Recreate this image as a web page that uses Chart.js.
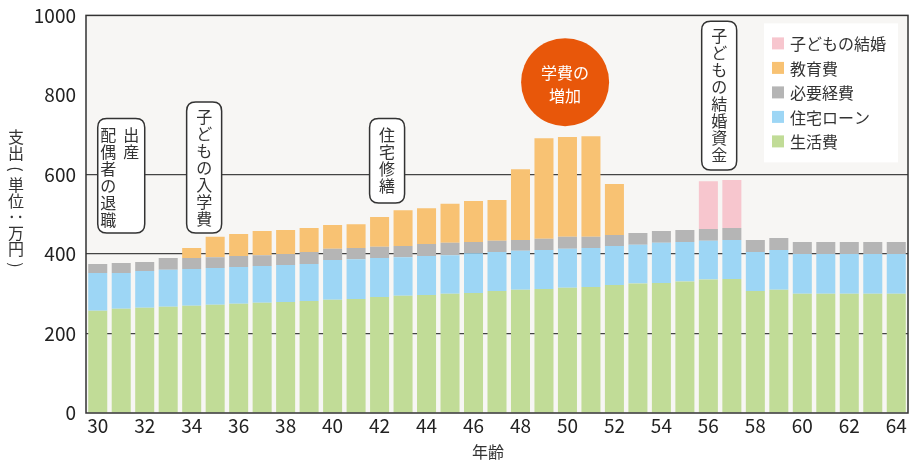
<!DOCTYPE html>
<html>
<head>
<meta charset="utf-8">
<script src="https://cdn.jsdelivr.net/npm/chart.js@4"></script>
<style>
  html, body { margin: 0; padding: 0; background: #fff; }
  #wrap { width: 909px; height: 463px; }
</style>
</head>
<body>
<div id="wrap"><canvas id="myChart" width="909" height="463"></canvas></div>
<script>
// ages 30..64
const ages = [];
for (let a = 30; a <= 64; a++) ages.push(String(a));

const living   = [257, 262, 265, 267, 270, 272, 275, 277, 279, 282, 285, 287, 292, 295, 297, 300, 302, 307, 310, 312, 315, 317, 322, 326, 327, 331, 336, 337, 307, 310, 300, 300, 300, 300, 300];
const loan     = [95, 90, 92, 93, 92, 93, 92, 93, 93, 93, 100, 100, 98, 97, 98, 97, 100, 98, 98, 98, 98, 98, 98, 97, 101, 99, 97, 98, 98, 100, 100, 100, 100, 100, 100];
const needed   = [23, 25, 23, 30, 28, 27, 28, 27, 28, 30, 28, 28, 28, 28, 30, 31, 28, 28, 27, 28, 30, 28, 28, 30, 30, 30, 30, 30, 30, 30, 30, 30, 30, 30, 30];
const education = [0, 0, 0, 0, 25, 51, 55, 61, 60, 60, 60, 60, 75, 90, 90, 98, 103, 103, 178, 253, 251, 253, 128, 0, 0, 0, 0, 0, 0, 0, 0, 0, 0, 0, 0];
const wedding  = [0, 0, 0, 0, 0, 0, 0, 0, 0, 0, 0, 0, 0, 0, 0, 0, 0, 0, 0, 0, 0, 0, 0, 0, 0, 0, 120, 121, 0, 0, 0, 0, 0, 0, 0];

const seriesNames = ['生活費', '住宅ローン', '必要経費', '教育費', '子どもの結婚'];
const seriesColors = ['#c1dc97', '#9dd6f5', '#b5b5b5', '#f8c273', '#f7c6ce'];
const yTicks = [0, 200, 400, 600, 800, 1000];
const gridValues = [200, 400, 600];

// callout boxes: columns are written right to left (vertical text)
const notes = [
  { at: 1.0, top: 741, bottom: 453, w: 47, cols: [{ text: '出産', dx: 10 }, { text: '配偶者の退職', dx: -13 }] },
  { at: 4.53, top: 782, bottom: 453, w: 35, cols: [{ text: '子どもの入学費', dx: 0 }] },
  { at: 12.32, top: 741, bottom: 528, w: 35, cols: [{ text: '住宅修繕', dx: 0 }] },
  { at: 26.46, top: 985, bottom: 611, w: 35, cols: [{ text: '子どもの結婚資金', dx: 0 }] }
];
const bubble = { at: 19.9, y: 832, r: 44, lines: ['学費の', '増加'] };

const FONT = '"Noto Sans CJK JP", "Noto Sans", sans-serif';

const datasets = seriesNames.map((name, i) => ({
  label: name,
  data: [living, loan, needed, education, wedding][i],
  backgroundColor: seriesColors[i],
  borderWidth: 0,
  barPercentage: 0.81,
  categoryPercentage: 1.0
}));

function roundRect(ctx, x, y, w, h, r) {
  ctx.beginPath();
  ctx.moveTo(x + r, y);
  ctx.lineTo(x + w - r, y);
  ctx.quadraticCurveTo(x + w, y, x + w, y + r);
  ctx.lineTo(x + w, y + h - r);
  ctx.quadraticCurveTo(x + w, y + h, x + w - r, y + h);
  ctx.lineTo(x + r, y + h);
  ctx.quadraticCurveTo(x, y + h, x, y + h - r);
  ctx.lineTo(x, y + r);
  ctx.quadraticCurveTo(x, y, x + r, y);
  ctx.closePath();
}

function verticalText(ctx, text, cx, cy, pitch) {
  const chars = Array.from(text);
  const start = cy - (chars.length - 1) * pitch / 2;
  chars.forEach((c, k) => {
    const y = start + k * pitch;
    if ('()（）：:'.includes(c)) {
      ctx.save();
      ctx.translate(cx, y);
      ctx.rotate(Math.PI / 2);
      ctx.fillText(c, 0, 0);
      ctx.restore();
    } else {
      ctx.fillText(c, cx, y);
    }
  });
}

const decor = {
  id: 'decor',
  beforeDraw(chart) {
    const { ctx, chartArea: a } = chart;
    ctx.save();
    ctx.fillStyle = '#f7f6f4';
    ctx.fillRect(a.left, a.top, a.right - a.left, a.bottom - a.top);
    ctx.restore();
  },
  afterDraw(chart) {
    const { ctx, chartArea: a, scales } = chart;
    const xs = scales.x, ys = scales.y;
    ctx.save();
    // frame
    ctx.strokeStyle = '#333';
    ctx.lineWidth = 1.5;
    ctx.strokeRect(a.left, a.top, a.right - a.left, a.bottom - a.top);

    // callouts
    ctx.font = '16px ' + FONT;
    ctx.textAlign = 'center';
    ctx.textBaseline = 'middle';
    notes.forEach(n => {
      const cx = xs.getPixelForValue(n.at);
      const top = ys.getPixelForValue(n.top);
      const bot = ys.getPixelForValue(n.bottom);
      roundRect(ctx, cx - n.w / 2, top, n.w, bot - top, 9);
      ctx.fillStyle = '#fff';
      ctx.fill();
      ctx.strokeStyle = '#333';
      ctx.lineWidth = 1.5;
      ctx.stroke();
      ctx.fillStyle = '#333';
      n.cols.forEach(col => {
        const len = Array.from(col.text).length;
        const pitch = 17;
        const firstTop = top + 8;
        const cy = n.cols.length > 1 ? firstTop + (len * pitch) / 2 : (top + bot) / 2;
        verticalText(ctx, col.text, cx + col.dx, cy, pitch);
      });
    });

    // orange bubble
    const bx = xs.getPixelForValue(bubble.at);
    const by = ys.getPixelForValue(bubble.y);
    ctx.beginPath();
    ctx.arc(bx, by, bubble.r, 0, Math.PI * 2);
    ctx.fillStyle = '#e8570a';
    ctx.fill();
    ctx.fillStyle = '#fff';
    ctx.fillText(bubble.lines[0], bx, by - 9);
    ctx.fillText(bubble.lines[1], bx, by + 14);

    // legend (top series first)
    const lx = a.right - 144, ly = a.top + 8;
    ctx.fillStyle = '#fff';
    ctx.fillRect(lx, ly, 134, 139);
    ctx.textAlign = 'left';
    for (let k = 0; k < seriesNames.length; k++) {
      const i = seriesNames.length - 1 - k;
      const rowY = ly + 20 + k * 24.5;
      ctx.fillStyle = seriesColors[i];
      ctx.fillRect(lx + 8, rowY - 6, 12, 12);
      ctx.fillStyle = '#333';
      ctx.fillText(seriesNames[i], lx + 26, rowY + 1);
    }

    // axis titles
    ctx.fillStyle = '#333';
    ctx.textAlign = 'center';
    ctx.font = '16px ' + FONT;
    verticalText(ctx, '支出(単位：万円)', 16, 201, 16);
    ctx.fillText('年齢', 488, 452);
    ctx.restore();
  }
};

const ctx = document.getElementById('myChart').getContext('2d');
const chart = new Chart(ctx, {
  type: 'bar',
  data: { labels: ages, datasets },
  options: {
    responsive: false,
    animation: false,
    layout: { padding: { top: 15, right: 1, left: 0, bottom: 0 } },
    plugins: { legend: { display: false }, tooltip: { enabled: false } },
    scales: {
      x: {
        stacked: true,
        grid: { display: false, drawTicks: false },
        border: { display: false },
        ticks: {
          autoSkip: false,
          maxRotation: 0,
          padding: 1,
          color: '#222',
          font: { size: 19, family: FONT },
          callback: (v, i) => (i % 2 === 0 ? ages[i] : '')
        },
        afterFit: s => { s.height = 50; }
      },
      y: {
        stacked: true,
        min: 0,
        max: 1000,
        afterBuildTicks: s => { s.ticks = yTicks.map(v => ({ value: v })); },
        grid: {
          drawTicks: true,
          tickLength: 6,
          tickColor: 'rgba(0,0,0,0)',
          lineWidth: 1.2,
          color: c => (gridValues.includes(c.tick && c.tick.value) ? '#444' : 'rgba(0,0,0,0)')
        },
        border: { display: false },
        ticks: {
          padding: 4,
          color: '#222',
          font: { size: 19, family: FONT },
          callback: v => String(v)
        },
        afterFit: s => { s.width = 86; }
      }
    }
  },
  plugins: [decor]
});
</script>
</body>
</html>
